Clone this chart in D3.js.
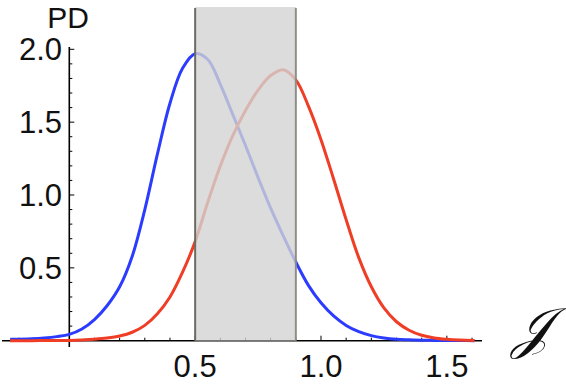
<!DOCTYPE html>
<html>
<head>
<meta charset="utf-8">
<script src="https://cdn.jsdelivr.net/npm/d3@7"></script>
<style>
  html, body { margin: 0; padding: 0; background: #fff; }
  svg { display: block; font-family: "Liberation Sans", Arial, sans-serif; }
</style>
</head>
<body>
<div id="chart"></div>
<script>
// valores
const jValues = [-0.235, -0.15, -0.1, -0.05, 0, 0.05, 0.1, 0.15, 0.2, 0.25, 0.3, 0.35, 0.4, 0.45, 0.5,
  0.55, 0.6, 0.65, 0.7, 0.75, 0.8, 0.85, 0.9, 0.95, 1.0, 1.05, 1.1, 1.15, 1.2, 1.25, 1.3, 1.35,
  1.4, 1.45, 1.5, 1.55, 1.61]
const bluePD = [0.01, 0.014, 0.019, 0.028, 0.043, 0.08, 0.145, 0.24, 0.37, 0.58, 0.9, 1.28, 1.63, 1.87, 1.97,
  1.93, 1.76, 1.55, 1.34, 1.12, 0.91, 0.72, 0.54, 0.38, 0.26, 0.17, 0.105, 0.062, 0.035, 0.019, 0.01, 0.006,
  0.003, 0.002, 0.001, 0.001, 0]
const redPD = [0, 0, 0.001, 0.001, 0.002, 0.005, 0.01, 0.018, 0.032, 0.058, 0.105, 0.185, 0.30, 0.47, 0.68,
  0.95, 1.2, 1.41, 1.58, 1.72, 1.82, 1.86, 1.79, 1.61, 1.38, 1.11, 0.83, 0.57, 0.37, 0.225, 0.13, 0.072,
  0.037, 0.019, 0.01, 0.005, 0.002]
const band = [0.5, 0.9]
const xTicks = [0.5, 1.0, 1.5]
const yTicks = [0.5, 1.0, 1.5, 2.0]

const width = 566, height = 384

const svg = d3.select("#chart").append("svg")
    .attr("width", width)
    .attr("height", height)

// escalas
const x = d3.scaleLinear().domain([0, 1]).range([69.3, 321])
const y = d3.scaleLinear().domain([0, 2]).range([340.7, 49.3])

const fmt = d3.format(".1f")
const minorX = d3.range(-0.2, 1.65, 0.1).map(v => +v.toFixed(1)).filter(v => v !== 0)
const minorY = d3.range(0.1, 2.01, 0.1).map(v => +v.toFixed(1))

// ejes
const axes = svg.append("g").attr("stroke", "#000")

axes.append("line")
    .attr("x1", 2).attr("x2", 482)
    .attr("y1", y(0)).attr("y2", y(0))
    .attr("stroke-width", 1.6)
axes.append("line")
    .attr("x1", x(0)).attr("x2", x(0))
    .attr("y1", 47).attr("y2", 347)
    .attr("stroke-width", 1.6)

axes.selectAll(".xt")
    .data(minorX)
    .join("line")
    .attr("x1", d => x(d)).attr("x2", d => x(d))
    .attr("y1", y(0))
    .attr("y2", d => y(0) - (xTicks.includes(d) ? 5 : 3))
    .attr("stroke-width", 1)
axes.selectAll(".yt")
    .data(minorY)
    .join("line")
    .attr("y1", d => y(d)).attr("y2", d => y(d))
    .attr("x1", x(0))
    .attr("x2", d => x(0) + (yTicks.includes(d) ? 5 : 3))
    .attr("stroke-width", 1)

svg.append("g")
    .selectAll("text")
    .data(xTicks)
    .join("text")
    .attr("x", d => x(d))
    .attr("y", 377)
    .attr("text-anchor", "middle")
    .attr("font-size", 31)
    .attr("fill", "#111")
    .text(fmt)

svg.append("g")
    .selectAll("text")
    .data(yTicks)
    .join("text")
    .attr("x", 62)
    .attr("y", d => y(d) + 11)
    .attr("text-anchor", "end")
    .attr("font-size", 31)
    .attr("fill", "#111")
    .text(fmt)

// curvas
const line = d3.line()
    .curve(d3.curveCatmullRom.alpha(0.5))
    .x((d, i) => x(jValues[i]))
    .y(d => y(d))

svg.append("path")
    .attr("d", line(bluePD))
    .attr("fill", "none")
    .attr("stroke", "#2b3cff")
    .attr("stroke-width", 3)

svg.append("path")
    .attr("d", line(redPD))
    .attr("fill", "none")
    .attr("stroke", "#ef3d26")
    .attr("stroke-width", 3)

// banda gris
svg.append("rect")
    .attr("x", x(band[0]))
    .attr("y", 7)
    .attr("width", x(band[1]) - x(band[0]))
    .attr("height", y(0) - 7)
    .attr("fill", "#d3d3d3")
    .attr("fill-opacity", 0.8)

svg.selectAll(".edge")
    .data(band)
    .join("line")
    .attr("x1", d => x(d)).attr("x2", d => x(d))
    .attr("y1", 8).attr("y2", y(0))
    .attr("stroke", (d, i) => i === 0 ? "#6b6b62" : "#8e8e86")
    .attr("stroke-width", 2)

// etiquetas
svg.append("text")
    .attr("x", 68)
    .attr("y", 28)
    .attr("text-anchor", "middle")
    .attr("font-size", 30)
    .attr("fill", "#111")
    .text("PD")

svg.append("text")
    .attr("x", 531)
    .attr("y", 347)
    .attr("text-anchor", "middle")
    .attr("font-size", 56)
    .attr("font-style", "italic")
    .attr("font-family", "DejaVu Serif, serif")
    .attr("fill", "#111")
    .text("\u{1D4A5}")
</script>
</body>
</html>
